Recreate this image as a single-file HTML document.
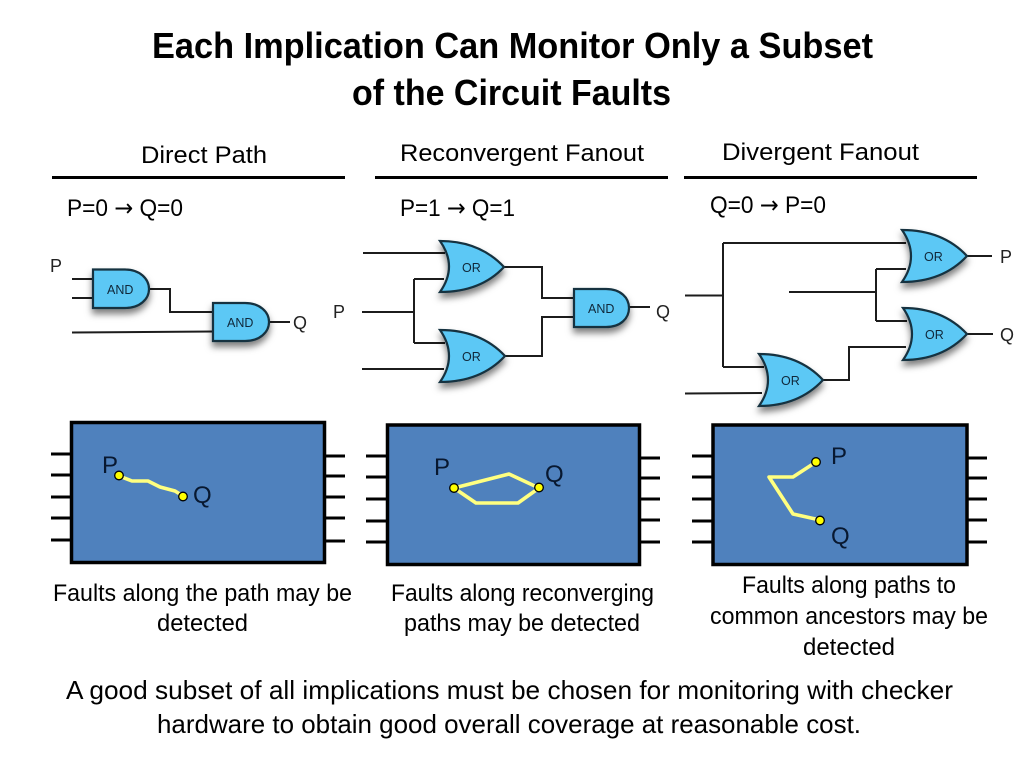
<!DOCTYPE html>
<html><head><meta charset="utf-8"><title>Each Implication Can Monitor Only a Subset of the Circuit Faults</title>
<style>html,body{margin:0;padding:0;background:#fff}svg{display:block}
text{font-family:"Liberation Sans",sans-serif;fill:#000}
.b{font-size:24px}.t{font-size:36px;font-weight:bold}.g{font-size:12.5px;fill:#10283a}.l{font-size:18px;fill:#222}
.w{fill:none;stroke:#1c1c1c;stroke-width:2}.gate{fill:#5cc8f5;stroke:#12303f;stroke-width:2.2;filter:url(#s)}
.pin{stroke:#000;stroke-width:3;fill:none}.box{fill:#4f81bd;stroke:#000;stroke-width:3.5}
.y{fill:none;stroke:#ffff80;stroke-width:3.6;stroke-linejoin:round}.d{fill:#ffff00;stroke:#000;stroke-width:1.3}
.n{font-size:24px;fill:#081830}.a{font-family:"DejaVu Sans",sans-serif}</style></head><body>
<svg width="1024" height="768" viewBox="0 0 1024 768" xmlns="http://www.w3.org/2000/svg">
<defs><filter id="s" x="-25%" y="-25%" width="150%" height="165%"><feDropShadow dx="0" dy="5" stdDeviation="3.5" flood-color="#000" flood-opacity=".5"/></filter></defs>
<rect width="1024" height="768" fill="#fff"/>
<text class="t" x="152" y="58" textLength="721" lengthAdjust="spacingAndGlyphs">Each Implication Can Monitor Only a Subset</text>
<text class="t" x="352" y="105" textLength="319" lengthAdjust="spacingAndGlyphs">of the Circuit Faults</text>

<text class="b" x="141" y="163" textLength="126" lengthAdjust="spacingAndGlyphs">Direct Path</text>
<text class="b" x="400" y="161" textLength="244" lengthAdjust="spacingAndGlyphs">Reconvergent Fanout</text>
<text class="b" x="722" y="160" textLength="197" lengthAdjust="spacingAndGlyphs">Divergent Fanout</text>
<path d="M52 177.500H345M375 177.500H668M684 177.500H977" stroke="#000" stroke-width="3" fill="none"/>
<text class="b" x="67" y="216" textLength="116" lengthAdjust="spacingAndGlyphs">P=0 <tspan class="a">→</tspan> Q=0</text>
<text class="b" x="400" y="216" textLength="115" lengthAdjust="spacingAndGlyphs">P=1 <tspan class="a">→</tspan> Q=1</text>
<text class="b" x="710" y="213" textLength="116" lengthAdjust="spacingAndGlyphs">Q=0 <tspan class="a">→</tspan> P=0</text>

<!-- Direct path circuit -->
<path class="w" d="M72 279H93M72 298H93M149 289H170V312H213M72 332.500L213 331.500M269 322H290"/>
<path class="gate" d="M93 269.500H125C140 269.500 149 279 149 289C149 299 140 308 125 308H93Z"/>
<path class="gate" d="M213 303H245C260 303 269 312 269 322C269 332 260 341 245 341H213Z"/>
<text class="g" x="107" y="294">AND</text><text class="g" x="227" y="327">AND</text>
<text class="l" x="50" y="272">P</text><text class="l" x="293" y="329">Q</text>

<!-- Reconvergent circuit -->
<path class="w" d="M363 253H445M414 279H444M414 279V343M362 312H414M414 343H445M362 369H444M504 267H542V298H574M505 356H542V317H574M629 307H650"/>
<path class="gate" d="M440 241C470 241 490 252 504 267C490 282 470 292 440 292C452 275 452 258 440 241Z"/>
<path class="gate" d="M440 330C470 330 491 341 505 356C491 371 470 382 440 382C452 365 452 347 440 330Z"/>
<path class="gate" d="M574 289H606C621 289 629 298 629 308C629 318 621 327 606 327H574Z"/>
<text class="g" x="462" y="272">OR</text><text class="g" x="462" y="361">OR</text><text class="g" x="588" y="313">AND</text>
<text class="l" x="333" y="318">P</text>
<svg x="650" y="295" width="20" height="30"><text class="l" x="6" y="23">Q</text></svg>

<!-- Divergent circuit -->
<path class="w" d="M685 295.500H723M723 243V367M723 243H906M723 367H764M685 393.500L762 393M789 292H876M876 269V321M876 269H906M876 321H907M823 380H849V347H906M967 256H992M967 334H993"/>
<path class="gate" d="M902 230C932 230 953 241 967 256C953 271 932 282 902 282C914 265 914 247 902 230Z"/>
<path class="gate" d="M903 308C933 308 953 319 967 334C953 349 933 360 903 360C915 343 915 325 903 308Z"/>
<path class="gate" d="M759 354C789 354 809 365 823 380C809 395 789 406 759 406C771 389 771 371 759 354Z"/>
<text class="g" x="924" y="261">OR</text><text class="g" x="925" y="339">OR</text><text class="g" x="781" y="385">OR</text>
<text class="l" x="1000" y="263">P</text><text class="l" x="1000" y="341">Q</text>

<!-- Box 1 -->
<path class="pin" d="M51 454H71M51 475H71M51 497H71M51 518H71M51 540H71M326 456H345M326 476H345M326 497H345M326 518H345M326 541H345"/>
<rect class="box" x="71.500" y="422.500" width="253" height="140"/>
<path class="y" d="M119 476L132 481H148L160 487L175 491L183 496"/>
<circle class="d" cx="119" cy="475.500" r="4.300"/><circle class="d" cx="183" cy="496.500" r="4.300"/>
<text class="n" x="102" y="473">P</text><text class="n" x="193" y="503">Q</text>

<!-- Box 2 -->
<path class="pin" d="M366 456H386M366 477H386M366 499H386M366 521H386M366 542H386M641 458H660M641 478H660M641 499H660M641 520H660M641 542H660"/>
<rect class="box" x="387.500" y="425" width="252" height="139.500"/>
<path class="y" d="M454 488L509 474L539 488L518 503H476Z"/>
<circle class="d" cx="454" cy="488" r="4.300"/><circle class="d" cx="539" cy="487.500" r="4.300"/>
<text class="n" x="434" y="475">P</text><text class="n" x="545" y="482">Q</text>

<!-- Box 3 -->
<path class="pin" d="M692 456H712M692 477H712M692 499H712M692 521H712M692 542H712M968 458H987M968 478H987M968 499H987M968 520H987M968 542H987"/>
<rect class="box" x="713" y="425" width="254" height="139.500"/>
<path class="y" d="M816 462L793 477H769L793 514L820 520"/>
<circle class="d" cx="816" cy="462" r="4.300"/><circle class="d" cx="820" cy="520.500" r="4.300"/>
<text class="n" x="831" y="464">P</text><text class="n" x="831" y="544">Q</text>

<!-- Captions -->
<text class="b" x="53" y="601" textLength="299" lengthAdjust="spacingAndGlyphs">Faults along the path may be</text>
<text class="b" x="157" y="631" textLength="91" lengthAdjust="spacingAndGlyphs">detected</text>
<text class="b" x="391" y="601" textLength="263" lengthAdjust="spacingAndGlyphs">Faults along reconverging</text>
<text class="b" x="404" y="631" textLength="236" lengthAdjust="spacingAndGlyphs">paths may be detected</text>
<text class="b" x="742" y="593" textLength="214" lengthAdjust="spacingAndGlyphs">Faults along paths to</text>
<text class="b" x="710" y="624" textLength="278" lengthAdjust="spacingAndGlyphs">common ancestors may be</text>
<text class="b" x="803" y="655" textLength="92" lengthAdjust="spacingAndGlyphs">detected</text>
<text class="b" style="font-size:26px" x="66" y="699" textLength="887" lengthAdjust="spacingAndGlyphs">A good subset of all implications must be chosen for monitoring with checker</text>
<text class="b" style="font-size:26px" x="157" y="733" textLength="704" lengthAdjust="spacingAndGlyphs">hardware to obtain good overall coverage at reasonable cost.</text>
</svg></body></html>
